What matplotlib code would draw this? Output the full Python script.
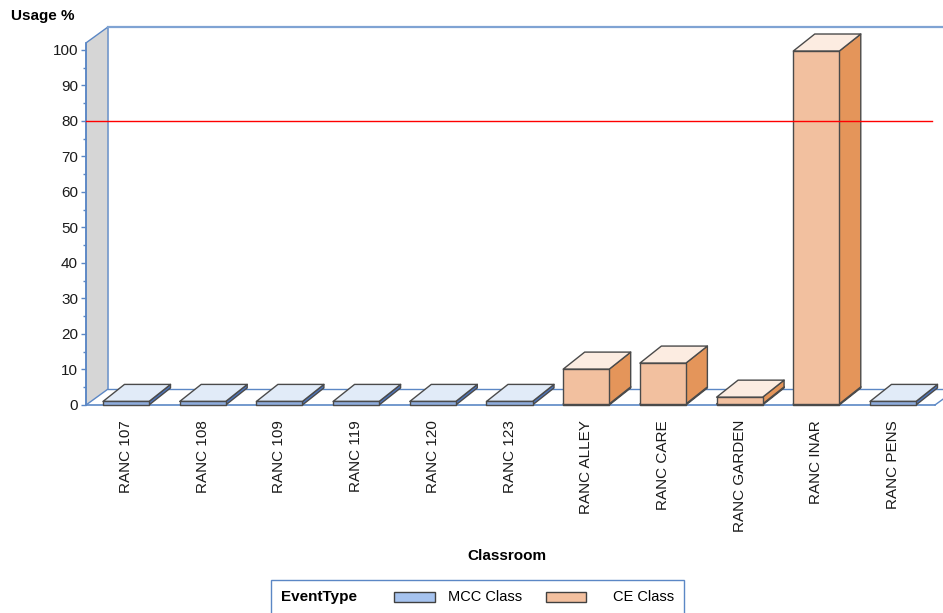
import matplotlib
matplotlib.use("Agg")
import matplotlib.pyplot as plt
from matplotlib.patches import Rectangle, Polygon

plt.rcParams['font.family'] = ['Liberation Sans', 'DejaVu Sans']

# ---- data -------------------------------------------------------------
classrooms = ["RANC 107", "RANC 108", "RANC 109", "RANC 119", "RANC 120",
              "RANC 123", "RANC ALLEY", "RANC CARE", "RANC GARDEN",
              "RANC INAR", "RANC PENS"]
mcc_usage = [1.0, 1.0, 1.0, 1.0, 1.0, 1.0, 0.3, 0.3, 0.3, 0.3, 1.0]
ce_usage = [0, 0, 0, 0, 0, 0, 9.8, 11.5, 1.9, 99.4, 0]
target_usage = 80
y_major = list(range(0, 101, 10))
y_minor = list(range(5, 100, 10))

# ---- style ------------------------------------------------------------
AXIS_BLUE = "#5b87c5"
EDGE = "#4a4a4a"
MCC_COLORS = dict(front="#8eacdc", top="#e1ebf8", side="#4d75bd")
CE_COLORS = dict(front="#f2c09f", top="#fcece1", side="#e4955a")
LEGEND_MCC = "#a6c3ef"
LEGEND_CE = "#f3c09f"

W, H = 943, 613
fig = plt.figure(figsize=(W / 100, H / 100), dpi=100)
ax = fig.add_axes([0, 0, 1, 1])
ax.set_xlim(-1.643, 10.652)
ax.set_ylim(-58.59, 114.08)

# 3-D geometry (oblique projection)
X0 = -0.5215          # front left edge of the plot box
WALL_TOP = 102.0
FLOOR_END = 10.547
WALL_DX, WALL_DY = 0.287, 4.5
BAR_W = 0.6
BAR_DX, BAR_DY = 0.28, 4.8

# left side wall
ax.add_patch(Polygon([(X0, 0), (X0, WALL_TOP),
                      (X0 + WALL_DX, WALL_TOP + WALL_DY),
                      (X0 + WALL_DX, WALL_DY)],
                     closed=True, facecolor="#d6d6d6", edgecolor=AXIS_BLUE,
                     lw=1.0, zorder=1))
# back floor edge and back wall top edge
ax.plot([X0 + WALL_DX, 11], [WALL_DY, WALL_DY], color=AXIS_BLUE, lw=1.0, zorder=1)
ax.plot([X0 + WALL_DX, 11], [WALL_TOP + WALL_DY] * 2, color="#7fa3d3", lw=1.6, zorder=1)
# right floor edge
ax.plot([FLOOR_END, FLOOR_END + WALL_DX], [0, WALL_DY], color=AXIS_BLUE, lw=1.0, zorder=1)


def draw_box(xc, bottom, height, colors):
    if height <= 0:
        return
    x0 = xc - BAR_W / 2
    top = bottom + height
    kw = dict(edgecolor=EDGE, lw=1.0, joinstyle="round", zorder=3)
    ax.add_patch(Polygon([(x0 + BAR_W, bottom), (x0 + BAR_W + BAR_DX, bottom + BAR_DY),
                          (x0 + BAR_W + BAR_DX, top + BAR_DY), (x0 + BAR_W, top)],
                         closed=True, facecolor=colors["side"], **kw))
    ax.add_patch(Polygon([(x0, top), (x0 + BAR_W, top),
                          (x0 + BAR_W + BAR_DX, top + BAR_DY), (x0 + BAR_DX, top + BAR_DY)],
                         closed=True, facecolor=colors["top"], **kw))
    ax.add_patch(Rectangle((x0, bottom), BAR_W, height,
                           facecolor=colors["front"], **kw))


for i, (m, c) in enumerate(zip(mcc_usage, ce_usage)):
    draw_box(i, 0, m, MCC_COLORS)
    draw_box(i, m, c, CE_COLORS)

# target line
ax.plot([X0, 10.508], [target_usage, target_usage], color="#ff0000", lw=1.0, zorder=6)

# ---- axes ---------------------------------------------------------------
for side in ("top", "right"):
    ax.spines[side].set_visible(False)
ax.spines["left"].set_position(("data", X0))
ax.spines["left"].set_bounds(0, WALL_TOP)
ax.spines["bottom"].set_position(("data", 0))
ax.spines["bottom"].set_bounds(X0, FLOOR_END)
for side in ("left", "bottom"):
    ax.spines[side].set_color(AXIS_BLUE)
    ax.spines[side].set_linewidth(1.2)
    ax.spines[side].set_zorder(2)

ax.set_yticks(y_major)
ax.set_yticks(y_minor, minor=True)
ax.tick_params(axis="y", which="major", length=3.6, width=1.0, color=AXIS_BLUE,
               pad=2.2, labelsize=11, labelcolor="#1a1a1a")
ax.tick_params(axis="y", which="minor", length=2.2, width=1.0, color=AXIS_BLUE)

ax.set_xticks(range(len(classrooms)), classrooms, rotation=90)
ax.tick_params(axis="x", length=0, pad=10.8, labelsize=11, labelcolor="#1a1a1a")
for lbl in ax.get_xticklabels():
    lbl.set_verticalalignment("top")

# titles
fig.text(11 / W, 1 - 16 / H, "Usage %", ha="left", va="center",
         fontsize=11, fontweight="bold")
fig.text(507 / W, 1 - 556 / H, "Classroom", ha="center", va="center",
         fontsize=11, fontweight="bold")

# ---- legend -------------------------------------------------------------
def fx(px):
    return px / W


def fy(py):
    return 1 - py / H


fig.add_artist(Rectangle((fx(271), fy(616)), fx(684) - fx(271), fy(580) - fy(616),
                         transform=fig.transFigure, facecolor="white",
                         edgecolor=AXIS_BLUE, lw=1.0))
fig.text(fx(281), fy(597), "EventType", ha="left", va="center",
         fontsize=11, fontweight="bold")
fig.add_artist(Rectangle((fx(394), fy(602)), fx(435) - fx(394), fy(592) - fy(602),
                         transform=fig.transFigure, facecolor=LEGEND_MCC,
                         edgecolor="#404040", lw=1.0))
fig.text(fx(448), fy(597), "MCC Class", ha="left", va="center", fontsize=10.5)
fig.add_artist(Rectangle((fx(546), fy(602)), fx(586) - fx(546), fy(592) - fy(602),
                         transform=fig.transFigure, facecolor=LEGEND_CE,
                         edgecolor="#404040", lw=1.0))
fig.text(fx(613), fy(597), "CE Class", ha="left", va="center", fontsize=10.5)

fig.savefig("out.png", dpi=100)
